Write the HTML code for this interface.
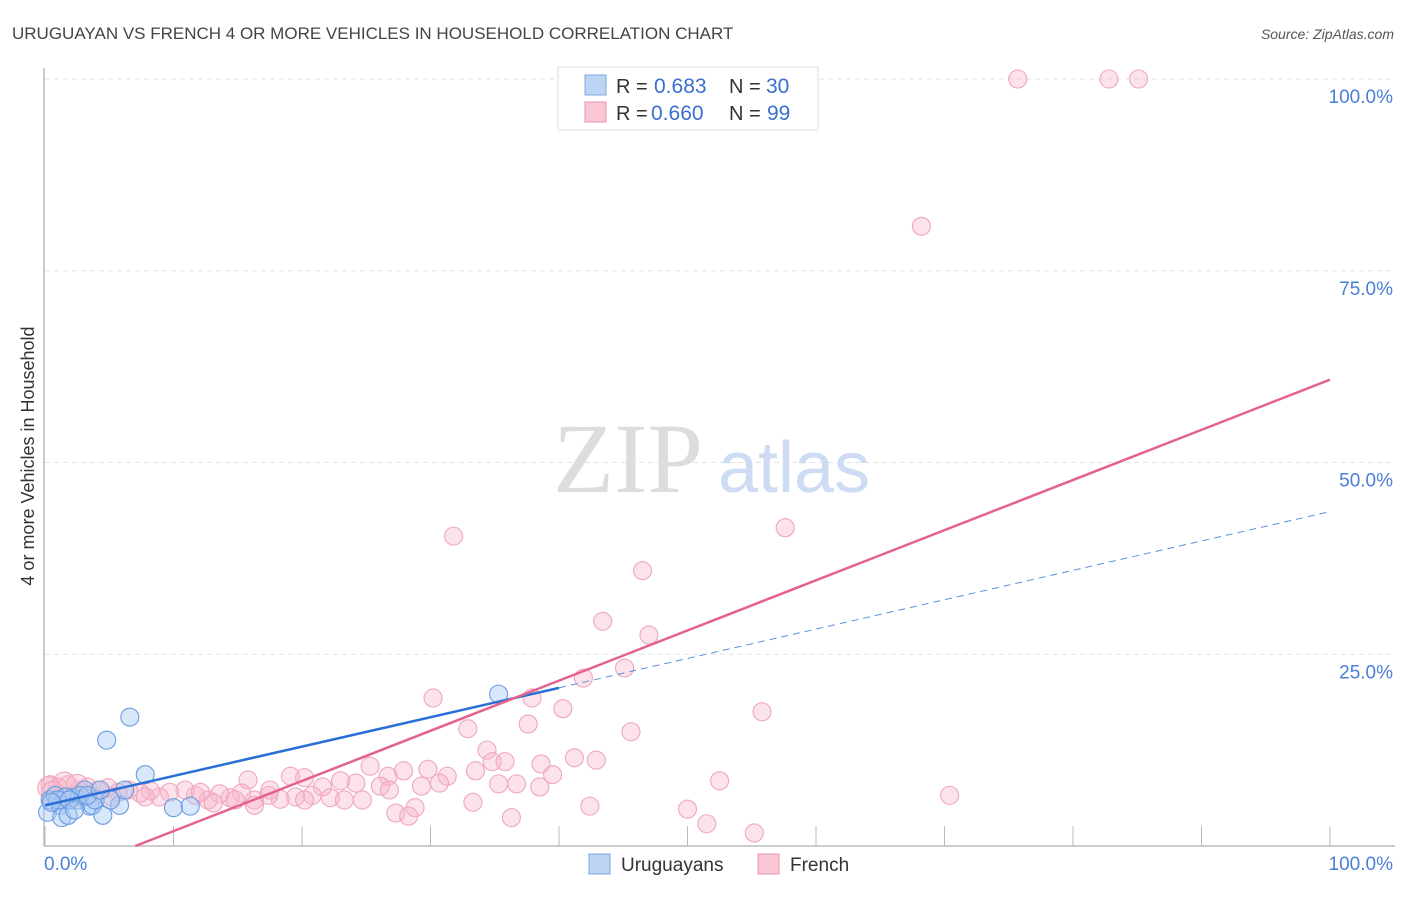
<!DOCTYPE html>
<html><head><meta charset="utf-8"><style>
body{margin:0;background:#fff;font-family:"Liberation Sans",sans-serif;}
svg text{font-family:"Liberation Sans",sans-serif;}
</style></head><body>
<svg width="1406" height="892" viewBox="0 0 1406 892" xmlns="http://www.w3.org/2000/svg">
<text x="12" y="39" font-size="17" fill="#444">URUGUAYAN VS FRENCH 4 OR MORE VEHICLES IN HOUSEHOLD CORRELATION CHART</text>
<text x="1394" y="39" font-size="14" fill="#555" font-style="italic" text-anchor="end">Source: ZipAtlas.com</text>
<g id="grid"></g>
<text x="553" y="492" font-size="100" fill="#ddd" style="font-family:'Liberation Serif',serif">ZIP</text>
<text x="718" y="492" font-size="72" fill="#cddcf2">atlas</text>
<g id="axes"></g>
<g id="pts"></g>
<g id="trends"></g>
<text transform="translate(34,456) rotate(-90)" font-size="18" fill="#333" text-anchor="middle">4 or more Vehicles in Household</text>
<g>
<rect x="558" y="67" width="260" height="63" fill="#fff" stroke="#ddd"/>
<rect x="585" y="75" width="21" height="20" fill="#bcd5f5" stroke="#7fa7e0"/>
<rect x="585" y="102" width="21" height="20" fill="#f9c6d4" stroke="#e892ad"/>
<text x="616" y="93" font-size="20" fill="#333">R =</text>
<text x="654" y="93" font-size="21" fill="#3a6fd0">0.683</text>
<text x="729" y="93" font-size="20" fill="#333">N =</text>
<text x="766" y="93" font-size="21" fill="#3a6fd0">30</text>
<text x="616" y="120" font-size="20" fill="#333">R =</text>
<text x="651" y="120" font-size="21" fill="#3a6fd0">0.660</text>
<text x="729" y="120" font-size="20" fill="#333">N =</text>
<text x="767" y="120" font-size="21" fill="#3a6fd0">99</text>
</g>
<g>
<rect x="589" y="854" width="21" height="20" fill="#bcd5f5" stroke="#7fa7e0"/>
<text x="621" y="871" font-size="19" fill="#333">Uruguayans</text>
<rect x="758" y="854" width="21" height="20" fill="#f9c6d4" stroke="#e892ad"/>
<text x="790" y="871" font-size="19" fill="#333">French</text>
</g>
</svg>
<script>
const blueX=[0.2,0.4,0.8,1.2,1.3,1.8,2.1,2.6,3.1,3.5,3.7,4.5,4.8,5.8,6.6,7.8,6.2,10.0,11.3,35.3,2.7,1.6,1.0,1.9,3.9,3.3,2.3,0.5,5.1,4.3];
const blueY=[4.4,6.0,6.6,5.3,3.7,4.0,6.3,6.0,7.3,5.2,5.3,4.0,13.8,5.3,16.8,9.3,7.3,5.0,5.2,19.8,6.6,6.4,6.0,6.0,6.0,6.6,4.7,5.7,6.0,7.3];
const pinkX=[75.7,82.8,85.1,68.2,57.6,31.8,46.5,43.4,47.0,45.1,41.9,30.2,37.9,40.3,55.8,37.6,32.9,45.6,34.4,41.2,42.9,34.8,35.8,38.6,25.3,27.9,29.8,33.5,26.7,31.3,39.5,19.1,20.2,15.8,52.5,70.4,35.3,36.7,38.5,30.7,29.3,26.1,24.2,23.0,21.6,20.8,19.5,18.3,17.4,16.3,15.3,14.4,13.6,12.7,11.7,10.9,9.7,8.9,8.2,7.4,6.5,5.7,4.9,4.1,3.3,2.6,1.8,1.0,0.4,0.8,1.3,2.1,2.9,3.7,22.2,23.3,20.2,13.1,16.3,33.3,42.4,50.0,27.3,28.8,28.3,36.3,51.5,55.2,24.7,14.8,12.1,7.8,5.2,17.5,26.8,0.3,1.5,2.5,0.6];
const pinkY=[100,100,100,80.8,41.5,40.4,35.9,29.3,27.5,23.2,21.9,19.3,19.3,17.9,17.5,15.9,15.3,14.9,12.5,11.5,11.2,11.0,11.0,10.7,10.4,9.8,10.0,9.8,9.1,9.1,9.3,9.1,8.9,8.6,8.5,6.6,8.1,8.1,7.7,8.2,7.8,7.8,8.2,8.5,7.7,6.6,6.4,6.1,6.6,6.0,6.9,6.3,6.8,6.0,6.6,7.3,7.0,6.4,7.2,6.9,7.3,7.0,7.6,7.3,7.7,7.3,8.0,7.7,8.0,6.6,6.0,6.6,6.3,6.4,6.3,6.0,6.0,5.6,5.3,5.7,5.2,4.8,4.3,5.0,3.9,3.7,2.9,1.7,6.0,6.0,7.0,6.4,6.4,7.3,7.3,7.6,8.2,7.9,7.0];
const yTicks=[25,50,75,100];
const yTickLabels=["25.0%","50.0%","75.0%","100.0%"];
const xTicks=[0,10,20,30,40,50,60,70,80,90,100];
const blueTrend=[5.3,0.383];   // intercept, slope
const pinkTrend=[-4.6,0.654];
const NS="http://www.w3.org/2000/svg";
const sx=v=>45+v*12.85, sy=v=>846-v*7.67;
function mk(t,a,p){const e=document.createElementNS(NS,t);for(const k in a)e.setAttribute(k,a[k]);p.appendChild(e);return e;}
const grid=document.getElementById('grid'),axes=document.getElementById('axes');
yTicks.forEach((v,i)=>{
  const l=mk('line',{x1:45,x2:1395,y1:sy(v),y2:sy(v),stroke:'#e2e2e2','stroke-dasharray':'5,4'},grid);
  
  
  const t=mk('text',{x:1393,y:sy(v)+24,'font-size':19,fill:'#4a7fd6','text-anchor':'end'},axes);
  t.textContent=yTickLabels[i];
  
  
});
let a=mk('line',{x1:44,x2:44,y1:68,y2:846,stroke:'#bbb','stroke-width':1.5},axes);


a=mk('line',{x1:44,x2:1395,y1:846,y2:846,stroke:'#bbb','stroke-width':1.5},axes);


xTicks.forEach(v=>{const t=mk('line',{x1:sx(v),x2:sx(v),y1:826,y2:846,stroke:'#bbb'},axes);
  
  });
let t=mk('text',{x:44,y:870,'font-size':19,fill:'#4a7fd6'},axes);t.textContent='0.0%';


t=mk('text',{x:1393,y:870,'font-size':19,fill:'#4a7fd6','text-anchor':'end'},axes);t.textContent='100.0%';


const pts=document.getElementById('pts');
pinkX.forEach((x,i)=>{const c=mk('circle',{cx:sx(x),cy:sy(pinkY[i]),r:i>=95?11:9,fill:'rgba(248,183,203,0.4)',stroke:'#efa6be','stroke-width':1.1},pts);
  
  });
blueX.forEach((x,i)=>{const c=mk('circle',{cx:sx(x),cy:sy(blueY[i]),r:9,fill:'rgba(168,202,243,0.45)',stroke:'#6a9be0','stroke-width':1.1},pts);
  
  });
const tr=document.getElementById('trends');
const bf=v=>blueTrend[0]+blueTrend[1]*v, pf=v=>pinkTrend[0]+pinkTrend[1]*v;
let l=mk('line',{x1:sx(0),y1:sy(bf(0)),x2:sx(40),y2:sy(bf(40)),stroke:'#2a6fd6','stroke-width':2.5},tr);


l=mk('line',{x1:sx(40),y1:sy(bf(40)),x2:sx(100),y2:sy(bf(100)),stroke:'#5b8fdc','stroke-width':1,'stroke-dasharray':'7,5'},tr);


const x0=-pinkTrend[0]/pinkTrend[1];
l=mk('line',{x1:sx(x0),y1:sy(0),x2:sx(100),y2:sy(pf(100)),stroke:'#e4628d','stroke-width':2.5},tr);


</script>
</body></html>
